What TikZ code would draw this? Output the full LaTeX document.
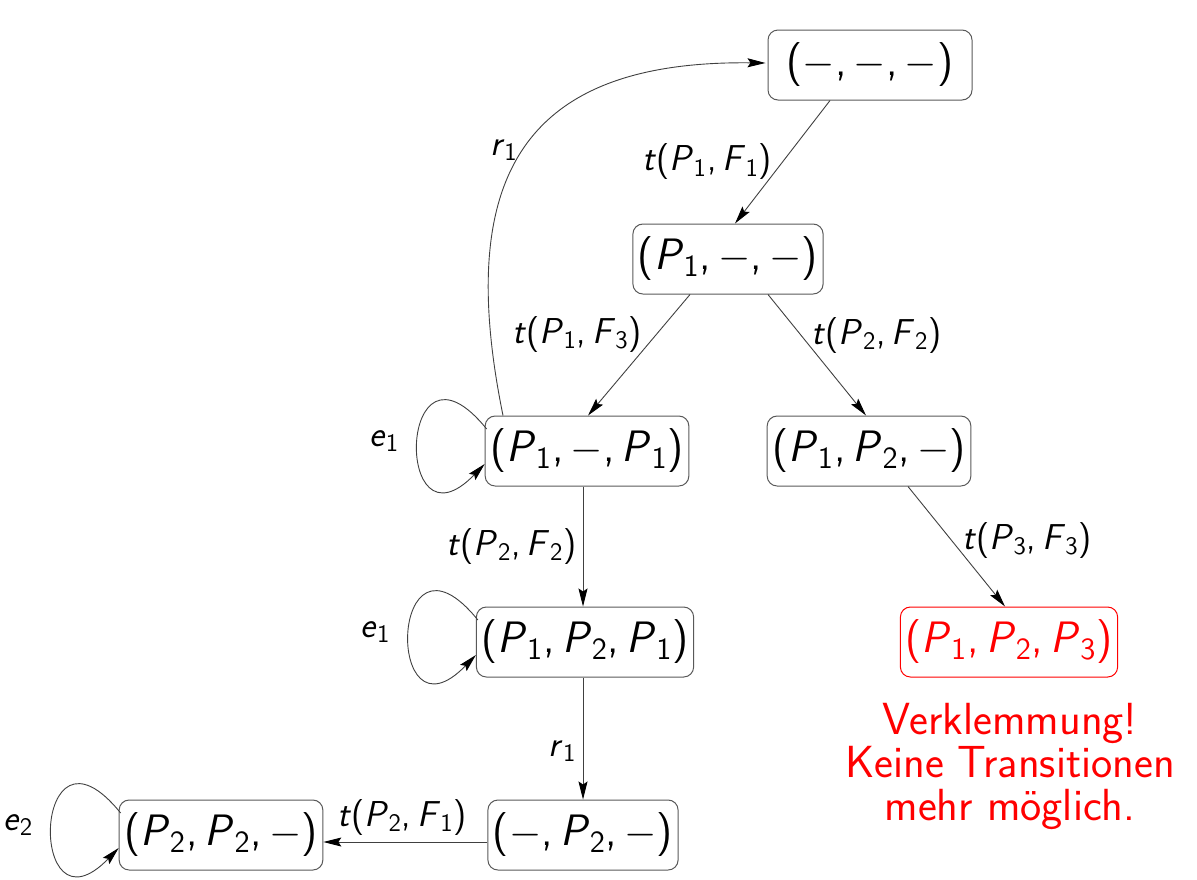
\documentclass[tikz,border=0pt]{standalone}
\usetikzlibrary{arrows.meta,calc}
\newcommand{\Pv}[1]{\textit{P}\textsubscript{#1}}
\newcommand{\Fv}[1]{\textit{F}\textsubscript{#1}}
\newcommand{\emp}{$-$}
\newcommand{\trans}[2]{\textit{t}(#1,\,#2)}
\tikzset{
  state/.style={draw=black!65, rounded corners=5pt, line width=0.5pt, inner xsep=2.5pt, inner ysep=0pt,
    minimum height=35pt, font=\sffamily\fontsize{22}{26}\selectfont},
  lbl/.style={font=\sffamily\fontsize{18}{20}\selectfont, inner sep=3pt},
  edge/.style={line width=0.45pt, draw=black!75, -{Stealth[length=9pt,width=4.5pt,inset=1.5pt,color=black,fill=black]}},
  loopedge/.style={edge}
}
\begin{document}
\begin{tikzpicture}[x=0.5pt,y=-0.5pt]
\useasboundingbox (0,0) rectangle (1197,879);
\node[state,minimum width=102pt] (A) at (870,65) {(\emp,\,\emp,\,\emp)};
\node[state] (B) at (728,259) {(\Pv1,\,\emp,\,\emp)};
\node[state] (C) at (587,451) {(\Pv1,\,\emp,\,\Pv1)};
\node[state] (D) at (869,451) {(\Pv1,\,\Pv2,\,\emp)};
\node[state] (E) at (585,642) {(\Pv1,\,\Pv2,\,\Pv1)};
\node[state,draw=red,text=red] (F) at (1009,642) {(\Pv1,\,\Pv2,\,\Pv3)};
\node[text=red, font=\sffamily\fontsize{22.5}{21.5}\selectfont, align=center, anchor=base, inner sep=0pt] (note) at (1010,820) {Verklemmung!\\Keine Transitionen\\mehr möglich.};
\node[state] (G) at (583,835) {(\emp,\,\Pv2,\,\emp)};
\node[state] (H) at (221,835) {(\Pv2,\,\Pv2,\,\emp)};

\draw[edge] ($(A.south)+(-40,0)$) -- node[lbl,left=2pt,pos=0.5]{\trans{\Pv1}{\Fv1}} ($(B.north)+(7,0)$);
\draw[edge] ($(B.south)+(-38,0)$) -- node[lbl,left=4pt,pos=0.33]{\trans{\Pv1}{\Fv3}} ($(C.north)+(1,0)$);
\draw[edge] ($(B.south)+(40,0)$) -- node[lbl,right=2pt,pos=0.34]{\trans{\Pv2}{\Fv2}} ($(D.north)+(-3,0)$);
\draw[edge] ($(C.north)+(-84,0)$) .. controls (455,180) and (520,60) .. node[lbl,left,pos=0.5]{\textit{r}\textsubscript{1}} ($(A.west)+(-2,-2)$);
\draw[edge] ($(C.south)+(-4,0)$) -- node[lbl,left,pos=0.5]{\trans{\Pv2}{\Fv2}} ($(E.north)+(-2,0)$);
\draw[edge] ($(D.south)+(39,0)$) -- node[lbl,right=2pt,pos=0.45]{\trans{\Pv3}{\Fv3}} ($(F.north)+(-4,0)$);
\draw[edge] ($(E.south)+(-2,0)$) -- node[lbl,left,pos=0.6]{\textit{r}\textsubscript{1}} (G.north);
\draw[edge] ($(G.west)+(0,7)$) -- node[lbl,above,pos=0.52]{\trans{\Pv2}{\Fv1}} ($(H.east)+(0,7)$);

\draw[loopedge] ($(C.west)+(2,-22)$) .. controls +(-89,-110) and +(-92,95) .. node[lbl,left=6pt,pos=0.5]{\textit{e}\textsubscript{1}} ($(C.west)+(0,13)$);
\draw[loopedge] ($(E.west)+(2,-22)$) .. controls +(-89,-110) and +(-92,95) .. node[lbl,left=6pt,pos=0.5]{\textit{e}\textsubscript{1}} ($(E.west)+(0,13)$);
\draw[loopedge] ($(H.west)+(2,-22)$) .. controls +(-89,-110) and +(-92,95) .. node[lbl,left=6pt,pos=0.5]{\textit{e}\textsubscript{2}} ($(H.west)+(0,13)$);
\end{tikzpicture}
\end{document}
